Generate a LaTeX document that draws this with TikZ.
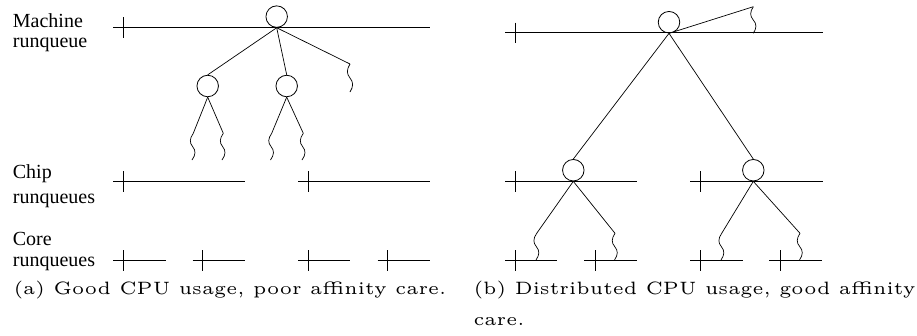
\documentclass[tikz,border=0pt]{standalone}
\usepackage{graphicx}
\usepackage{fontspec}
\newfontfamily\lblfont{Liberation Serif}
\usetikzlibrary{calc}
\newcommand\capfont[1]{\scalebox{3.58}{\fontsize{5}{6}\selectfont #1}}
\begin{document}
\begin{tikzpicture}[x=1pt,y=-1pt,
  rq/.style={line width=0.8pt},
  edge/.style={line width=0.7pt},
  task/.style={circle,draw,line width=0.8pt,minimum size=21.5pt,inner sep=0pt},
  lbl/.style={anchor=base west,inner sep=0pt,font=\lblfont\fontsize{20}{22}\selectfont},
  captxt/.style={anchor=base west,inner sep=0pt},
  sq/.style={line width=0.7pt,to path={.. controls ($(\tikztostart)!0.2!(\tikztotarget)+(-3.5pt,0)$) and ($(\tikztostart)!0.35!(\tikztotarget)+(-3.5pt,0)$) .. ($(\tikztostart)!0.5!(\tikztotarget)$) .. controls ($(\tikztostart)!0.65!(\tikztotarget)+(3.5pt,0)$) and ($(\tikztostart)!0.8!(\tikztotarget)+(3.5pt,0)$) .. (\tikztotarget)}}]
\useasboundingbox (0,0) rectangle (917,335);

% ---------- panel (a) ----------
\node[lbl] (lm1) at (12.7,27.5) {Machine};
\node[lbl] (lm2) at (12.7,47.5) {runqueue};
\node[lbl] (lc1) at (12.7,178) {Chip};
\node[lbl] (lc2) at (12.7,203.5) {runqueues};
\node[lbl] (lk1) at (12.7,245) {Core};
\node[lbl] (lk2) at (12.7,266) {runqueues};

% runqueues
\draw[rq] (113.3,27.3) -- (430,27.3);
\draw[rq] (123.3,17) -- (123.3,38);
\draw[rq] (113.3,181.5) -- (245,181.5);
\draw[rq] (123.3,171) -- (123.3,192);
\draw[rq] (298.3,181.5) -- (430,181.5);
\draw[rq] (308.3,171) -- (308.3,192);
\draw[rq] (113.3,260) -- (165.7,260);
\draw[rq] (123.3,250) -- (123.3,270.7);
\draw[rq] (192.7,260) -- (245,260);
\draw[rq] (202.7,250) -- (202.7,270.7);
\draw[rq] (298.3,260) -- (350,260);
\draw[rq] (308.3,250) -- (308.3,270.7);
\draw[rq] (377.7,260) -- (430,260);
\draw[rq] (387.7,250) -- (387.7,270.7);

% tree
\node[task] (ar) at (276.7,16.6) {};
\node[task] (ac1) at (207.7,86) {};
\node[task] (ac2) at (286.7,86) {};
\coordinate (ae3) at (350,64);
\coordinate (ae3b) at (350,92);
\draw[edge] (ar.south) -- (ac1.north);
\draw[edge] (ar.south) -- (ac2.north);
\draw[edge] (ar.south) -- (ae3);
\draw[sq] (ae3) to (ae3b);

\coordinate (al1) at (193.3,133.3); \coordinate (al1b) at (192,160);
\coordinate (al2) at (223.3,133.3); \coordinate (al2b) at (222,160);
\coordinate (al3) at (271.7,133.3); \coordinate (al3b) at (270.5,160);
\coordinate (al4) at (303.3,133.3); \coordinate (al4b) at (302,160);
\draw[edge] (ac1.south) -- (al1);
\draw[edge] (ac1.south) -- (al2);
\draw[edge] (ac2.south) -- (al3);
\draw[edge] (ac2.south) -- (al4);
\draw[sq] (al1) to (al1b);
\draw[sq] (al2) to (al2b);
\draw[sq] (al3) to (al3b);
\draw[sq] (al4) to (al4b);

\node[captxt] (capa) at (13.3,294.5) {\capfont{(a) Good CPU usage, poor affinity care.}};

% ---------- panel (b) ----------
\draw[rq] (505,32.7) -- (822.7,32.7);
\draw[rq] (515,22.7) -- (515,43.3);
\draw[rq] (505,181) -- (636.7,181);
\draw[rq] (515,171) -- (515,191.7);
\draw[rq] (690,181) -- (822.7,181);
\draw[rq] (700,171) -- (700,191.7);
\draw[rq] (505,260) -- (557.3,260);
\draw[rq] (515,250) -- (515,270.7);
\draw[rq] (584,260) -- (636.7,260);
\draw[rq] (595,250) -- (595,270.7);
\draw[rq] (690,260) -- (742.7,260);
\draw[rq] (700,250) -- (700,270.7);
\draw[rq] (769.3,260) -- (821.7,260);
\draw[rq] (780,250) -- (780,270.7);

\node[task] (br) at (669,22.2) {};
\node[task] (bc1) at (573.3,170.2) {};
\node[task] (bc2) at (753.3,170.2) {};
\coordinate (be3) at (753.3,6.7);
\coordinate (be3b) at (753.3,33.3);
\draw[edge] (br.south) -- (bc1.north);
\draw[edge] (br.south) -- (bc2.north);
\draw[edge] (br.south) -- (be3);
\draw[sq] (be3) to (be3b);

\coordinate (bl1) at (536.7,233.3); \coordinate (bl1b) at (536,260);
\coordinate (bl2) at (615,233.3);   \coordinate (bl2b) at (614.5,260);
\coordinate (bl3) at (721.7,233.3); \coordinate (bl3b) at (721,260);
\coordinate (bl4) at (800,233.3);   \coordinate (bl4b) at (799.5,260);
\draw[edge] (bc1.south) -- (bl1);
\draw[edge] (bc1.south) -- (bl2);
\draw[edge] (bc2.south) -- (bl3);
\draw[edge] (bc2.south) -- (bl4);
\draw[sq] (bl1) to (bl1b);
\draw[sq] (bl2) to (bl2b);
\draw[sq] (bl3) to (bl3b);
\draw[sq] (bl4) to (bl4b);

\node[captxt] (capb1) at (473.3,294.5) {\capfont{(b) Distributed CPU usage, good affinity}};
\node[captxt] (capb2) at (473.3,325) {\capfont{care.}};
\end{tikzpicture}
\end{document}
